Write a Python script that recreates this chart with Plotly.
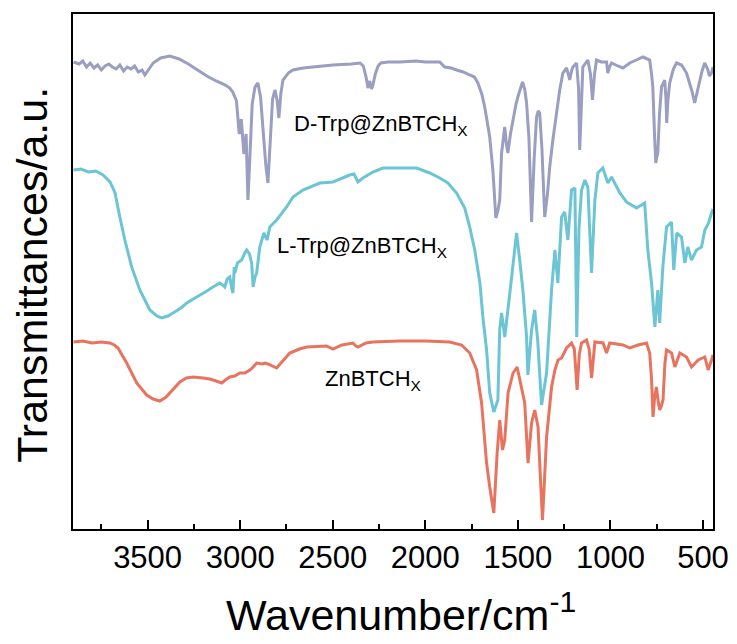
import plotly.graph_objects as go

# ---------------- data (wavenumber cm-1, transmittance a.u.) ----------------
d_trp_wn = [3900, 3870, 3850, 3830, 3810, 3790, 3770, 3750, 3730, 3710, 3690, 3670, 3650, 3630, 3610,
            3590, 3570, 3550, 3530, 3515, 3500, 3470, 3430, 3380, 3330, 3280, 3230, 3180, 3130, 3080,
            3056, 3040, 3020, 3005, 2994, 2980, 2968, 2958, 2948, 2935, 2920, 2904, 2890, 2875, 2862,
            2850, 2838, 2825, 2812, 2800, 2791, 2780, 2769, 2740, 2715, 2660, 2607, 2500, 2400, 2353,
            2335, 2320, 2310, 2300, 2290, 2283, 2270, 2255, 2240, 2200, 2138, 2050, 2000, 1950, 1922,
            1895, 1860, 1831, 1795, 1760, 1735, 1716, 1695, 1679, 1665, 1652, 1635, 1619, 1608, 1598,
            1588, 1571, 1562, 1554, 1540, 1527, 1510, 1500, 1488, 1475, 1463, 1453, 1440, 1426, 1412,
            1399, 1390, 1382, 1370, 1355, 1340, 1328, 1311, 1291, 1274, 1257, 1237, 1228, 1220, 1210,
            1203, 1183, 1172, 1166, 1158, 1149, 1122, 1108, 1097, 1086, 1075, 1050, 1021, 1014, 1005,
            994, 960, 933, 910, 896, 860, 825, 800, 788, 778, 771, 762, 755, 750, 744,
            735, 724, 707, 700, 696, 690, 680, 660, 643, 616, 589, 572, 560, 545, 530,
            518, 505, 491, 475, 465, 454, 446]
d_trp_t = [467, 465, 468, 462, 466, 461, 464, 459, 463, 465, 462, 460, 464, 458, 462,
           460, 463, 457, 459, 454, 458, 466, 471, 473, 470, 465, 459, 453, 448, 444,
           441, 437, 428, 395, 410, 375, 395, 329, 370, 425, 442, 446, 432, 395, 365,
           346, 385, 430, 439, 428, 411, 436, 449, 456, 459, 461, 462, 464, 465, 466,
           463, 452, 441, 448, 440, 444, 455, 463, 466, 467, 467, 468, 467, 467, 467,
           462, 461, 459, 457, 454, 452, 446, 435, 422, 408, 392, 359, 311, 318, 329,
           376, 402, 385, 376, 395, 409, 425, 432, 440, 447, 440, 426, 390, 307, 370,
           412, 418, 416, 380, 312, 335, 362, 389, 419, 439, 456, 461, 455, 449, 458,
           462, 466, 440, 379, 430, 462, 469, 455, 429, 455, 469, 467, 467, 456, 462,
           466, 463, 461, 464, 466, 469, 472, 470, 469, 455, 442, 395, 366, 372, 376,
           415, 442, 449, 430, 406, 428, 446, 460, 466, 464, 456, 446, 438, 426, 438,
           449, 458, 466, 460, 453, 456, 462]

l_trp_wn = [3900, 3860, 3820, 3780, 3741, 3720, 3703, 3690, 3676, 3650, 3623, 3586, 3542, 3488, 3450,
            3424, 3390, 3363, 3320, 3289, 3250, 3218, 3180, 3147, 3110, 3095, 3083, 3070, 3056, 3045,
            3039, 3032, 3029, 3015, 2992, 2975, 2965, 2950, 2938, 2930, 2920, 2911, 2894, 2872, 2862,
            2854, 2840, 2803, 2749, 2715, 2661, 2570, 2499, 2440, 2408, 2385, 2364, 2337, 2283, 2229,
            2192, 2047, 1976, 1922, 1878, 1831, 1787, 1760, 1733, 1705, 1689, 1669, 1652, 1630, 1608,
            1598, 1588, 1571, 1544, 1507, 1490, 1473, 1453, 1446, 1426, 1409, 1393, 1372, 1345, 1318,
            1300, 1284, 1264, 1247, 1230, 1210, 1192, 1182, 1170, 1156, 1138, 1122, 1102, 1084, 1068,
            1041, 1014, 994, 949, 913, 859, 815, 798, 778, 760, 744, 734, 717, 697, 670,
            658, 642, 616, 598, 582, 562, 535, 508, 490, 470, 454, 446]
l_trp_t = [359, 360, 357, 358, 354, 350, 347, 342, 336, 312, 289, 262, 239, 219, 213,
           211, 213, 216, 221, 226, 230, 234, 238, 242, 246, 244, 242, 250, 252, 240,
           236, 262, 256, 266, 269, 276, 279, 275, 266, 242, 252, 256, 282, 296, 292,
           289, 302, 309, 322, 332, 339, 346, 347, 352, 354, 355, 347, 351, 357, 361,
           361, 361, 356, 351, 346, 336, 321, 302, 279, 246, 212, 179, 136, 117, 129,
           200, 216, 192, 235, 296, 269, 239, 192, 154, 199, 219, 189, 124, 156, 239,
           279, 246, 312, 317, 289, 339, 341, 192, 300, 339, 349, 342, 256, 329, 356,
           361, 346, 352, 336, 327, 321, 326, 279, 246, 202, 239, 206, 262, 302, 307,
           259, 296, 292, 266, 282, 269, 279, 282, 299, 306, 316, 320]

zn_wn = [3900, 3850, 3800, 3750, 3704, 3680, 3660, 3613, 3559, 3505, 3470, 3434, 3400, 3380, 3326,
         3290, 3255, 3200, 3164, 3130, 3100, 3080, 3056, 3030, 3002, 2975, 2948, 2930, 2911, 2880,
         2865, 2850, 2830, 2803, 2770, 2732, 2680, 2641, 2533, 2499, 2450, 2391, 2375, 2364, 2320,
         2283, 2138, 2000, 1868, 1804, 1760, 1723, 1696, 1669, 1652, 1640, 1630, 1612, 1598, 1583,
         1571, 1553, 1526, 1504, 1480, 1463, 1445, 1426, 1409, 1391, 1378, 1367, 1356, 1345, 1318,
         1300, 1283, 1264, 1237, 1210, 1195, 1180, 1168, 1156, 1129, 1115, 1102, 1090, 1084, 1040,
         1021, 1004, 932, 896, 851, 805, 788, 778, 770, 762, 752, 742, 734, 725, 716,
         706, 697, 670, 652, 625, 589, 562, 526, 490, 472, 454, 446]
zn_t = [187, 188, 186, 187, 186, 184, 181, 166, 146, 134, 130, 128, 132, 136, 147,
        151, 152, 151, 150, 148, 146, 149, 152, 153, 156, 156, 159, 162, 166, 165,
        166, 165, 163, 161, 168, 176, 180, 182, 183, 180, 184, 186, 183, 182, 186,
        187, 188, 188, 187, 184, 176, 159, 126, 66, 42, 30, 16, 76, 109, 79,
        89, 136, 156, 162, 142, 126, 66, 106, 119, 102, 50, 9, 50, 92, 142,
        159, 169, 171, 181, 186, 180, 139, 175, 186, 189, 180, 151, 180, 187, 186,
        176, 186, 184, 181, 184, 186, 176, 150, 112, 130, 142, 128, 119, 123, 129,
        165, 179, 176, 162, 176, 172, 162, 169, 172, 159, 169, 174]

series_names = ["D-Trp@ZnBTCH<sub>X</sub>", "L-Trp@ZnBTCH<sub>X</sub>", "ZnBTCH<sub>X</sub>"]
series_colors = ["#9a9ec1", "#6cc5d5", "#e8735f"]
label_pos = [(0.342, 0.784), (0.316, 0.548), (0.39, 0.289)]

x_ticks = [3500, 3000, 2500, 2000, 1500, 1000, 500]
x_minor_ticks = [3750, 3250, 2750, 2250, 1750, 1250, 750]

x_title = "Wavenumber/cm<sup>-1</sup>"
y_title = "Transmittances/a.u."

FONT = "Arial, 'Liberation Sans', sans-serif"

fig = go.Figure()
for wn, t, name, col in zip([d_trp_wn, l_trp_wn, zn_wn], [d_trp_t, l_trp_t, zn_t],
                            series_names, series_colors):
    fig.add_trace(go.Scatter(x=wn, y=t, mode="lines", name=name,
                             line=dict(color=col, width=3), showlegend=False))

for name, (px, py) in zip(series_names, label_pos):
    fig.add_annotation(x=px, y=py, xref="paper", yref="paper", text=name, showarrow=False,
                       xanchor="left", yanchor="middle", font=dict(size=22, color="black", family=FONT))

# axis titles
fig.add_annotation(x=0.5125, y=-0.161, xref="paper", yref="paper", text=x_title, showarrow=False,
                   xanchor="center", yanchor="middle", font=dict(size=43, color="black", family=FONT))
fig.add_annotation(x=-0.0645, y=0.493, xref="paper", yref="paper", text=y_title, showarrow=False,
                   textangle=-90, xanchor="center", yanchor="middle",
                   font=dict(size=43, color="black", family=FONT))

fig.update_layout(
    width=737, height=644,
    margin=dict(l=73, r=24, t=14, b=115),
    paper_bgcolor="white", plot_bgcolor="white",
    font=dict(family=FONT, color="black"),
    xaxis=dict(
        range=[3903, 446], tickvals=x_ticks, ticks="inside", ticklen=9, tickwidth=2,
        tickcolor="black", showline=True, linecolor="black", linewidth=2, mirror=True,
        showgrid=False, zeroline=False, tickfont=dict(size=31, color="black", family=FONT),
        minor=dict(ticks="inside", ticklen=5, tickwidth=1.5, tickcolor="black",
                   tickvals=x_minor_ticks, showgrid=False),
        automargin=False,
    ),
    yaxis=dict(
        range=[0, 515], showticklabels=False, ticks="", showline=True, linecolor="black",
        linewidth=2, mirror=True, showgrid=False, zeroline=False,
        automargin=False,
    ),
)

fig.write_html("out.html")
